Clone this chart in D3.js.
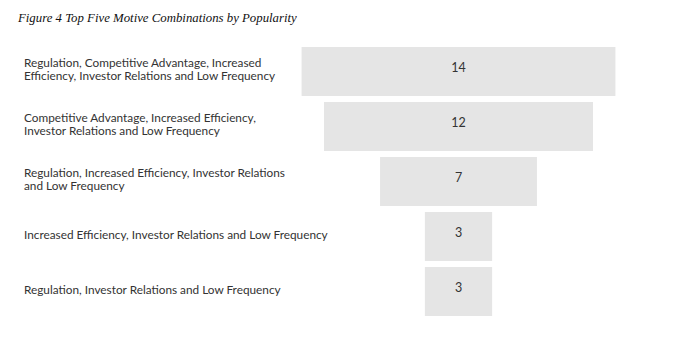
<!DOCTYPE html>
<html><head><meta charset="utf-8">
<script src="https://cdn.jsdelivr.net/npm/d3@7"></script>
<style>body{margin:0;background:#fff;}</style>
</head><body>
<script>
const categories = [
  ["Regulation, Competitive Advantage, Increased", "Efficiency, Investor Relations and Low Frequency"],
  ["Competitive Advantage, Increased Efficiency,", "Investor Relations and Low Frequency"],
  ["Regulation, Increased Efficiency, Investor Relations", "and Low Frequency"],
  ["Increased Efficiency, Investor Relations and Low Frequency"],
  ["Regulation, Investor Relations and Low Frequency"]
];
const values = [14, 12, 7, 3, 3];
const title = "Figure 4 Top Five Motive Combinations by Popularity";

const W = 673, H = 342;
const svg = d3.select("body").append("svg").attr("width", W).attr("height", H);

svg.append("text").attr("x", 18).attr("y", 22)
  .attr("font-family", "'Liberation Serif', serif").attr("font-style", "italic")
  .attr("font-size", 12.8).attr("fill", "#111").text(title);

const y = d3.scaleBand().domain(d3.range(values.length)).range([47, 316]).paddingInner(0.11).paddingOuter(0);
const cx = 458.5;
const w = d3.scaleLinear().domain([0, 12]).range([0, 269]);

const g = svg.append("g");
const rows = g.selectAll("g.row").data(values).enter().append("g");
rows.append("rect")
  .attr("x", d => cx - w(d) / 2)
  .attr("y", (d, i) => y(i))
  .attr("width", d => w(d))
  .attr("height", y.bandwidth())
  .attr("fill", "#e5e5e5");
rows.append("text")
  .attr("x", cx)
  .attr("y", (d, i) => y(i) + y.bandwidth() / 2 - 3.5)
  .attr("dy", "0.35em")
  .attr("text-anchor", "middle")
  .attr("font-family", "Lato, sans-serif").attr("font-size", 12.5)
  .attr("fill", "#333").text(d => d);

const lab = svg.selectAll("text.lab").data(categories).enter().append("text")
  .attr("class", "lab")
  .attr("font-family", "Lato, sans-serif").attr("font-size", 11.8)
  .attr("fill", "#333");
lab.each(function(lines, i) {
  const c = y(i) + y.bandwidth() / 2 - 2;
  const lh = 13.5;
  const start = c - (lines.length - 1) * lh / 2;
  d3.select(this).selectAll("tspan").data(lines).enter().append("tspan")
    .attr("x", 24).attr("y", (d, j) => start + j * lh).attr("dy", "0.35em").text(d => d);
});
</script>
</body></html>
